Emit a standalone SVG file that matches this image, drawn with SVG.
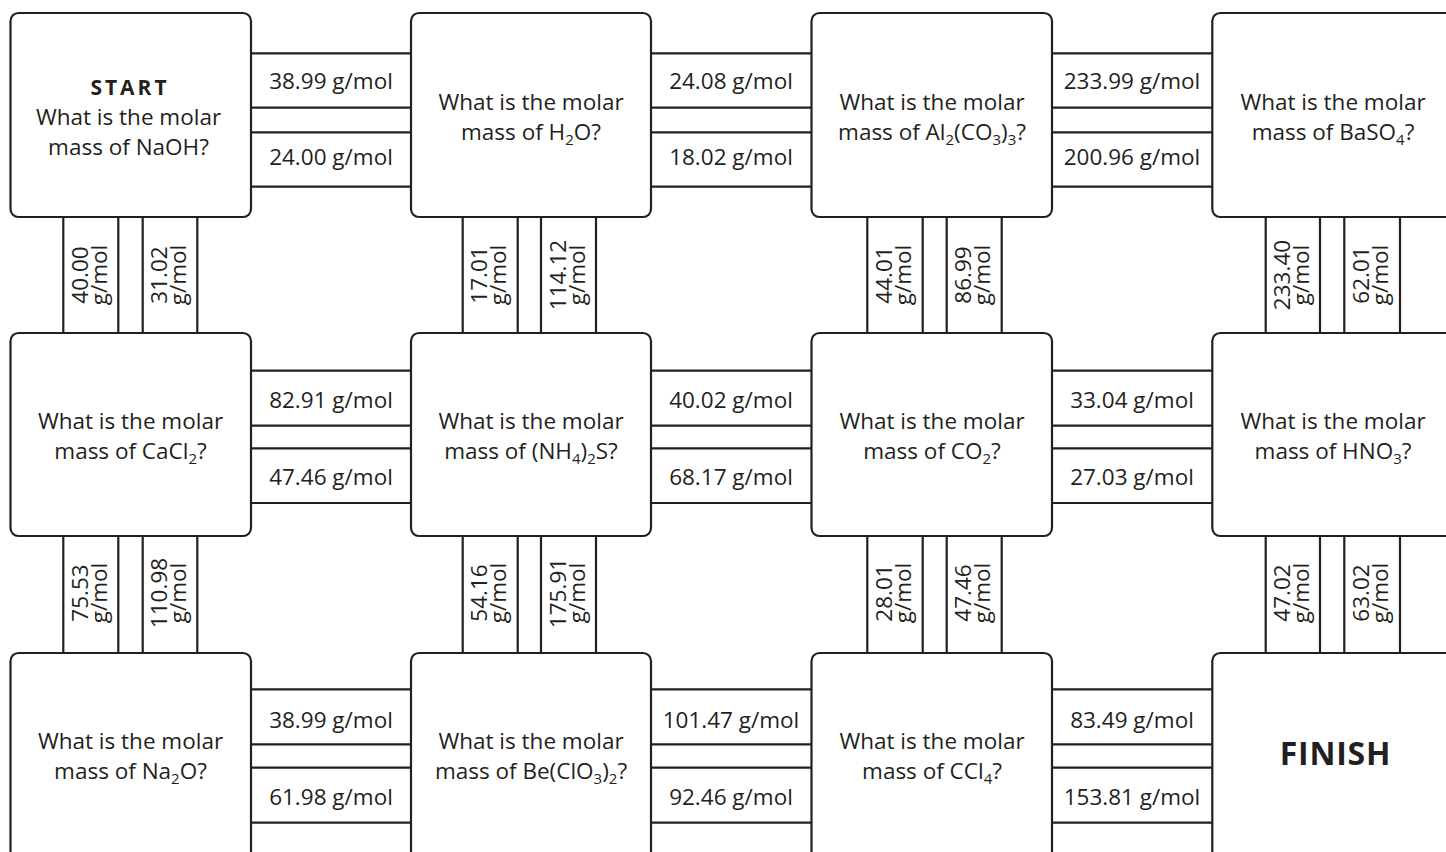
<svg xmlns="http://www.w3.org/2000/svg" width="1446" height="852" viewBox="0 0 1446 852">
<style>
.box{fill:#fff;stroke:#231f20;stroke-width:2.2}
.ln{stroke:#231f20;stroke-width:2.2;fill:none}
text{font-family:"Open Sans","Liberation Sans",sans-serif;font-size:22.5px;fill:#231f20;text-anchor:middle}
.sub{font-size:15px}
.b{font-weight:bold}
</style>
<rect width="1446" height="852" fill="#fff"/>
<g id="connectors">
<g class="ln">
<path d="M251 53.3H411M251 107.7H411M251 132.3H411M251 186.7H411"/>
<path d="M651 53.3H811M651 107.7H811M651 132.3H811M651 186.7H811"/>
<path d="M1052 53.3H1212M1052 107.7H1212M1052 132.3H1212M1052 186.7H1212"/>
<path d="M251 370.7H411M251 425.7H411M251 448.3H411M251 503H411"/>
<path d="M651 370.7H811M651 425.7H811M651 448.3H811M651 503H811"/>
<path d="M1052 370.7H1212M1052 425.7H1212M1052 448.3H1212M1052 503H1212"/>
<path d="M251 689.3H411M251 744.3H411M251 767.7H411M251 822.7H411"/>
<path d="M651 689.3H811M651 744.3H811M651 767.7H811M651 822.7H811"/>
<path d="M1052 689.3H1212M1052 744.3H1212M1052 767.7H1212M1052 822.7H1212"/>
<path d="M63.3 217V333M118.3 217V333M142.7 217V333M197.3 217V333"/>
<path d="M462.7 217V333M517.7 217V333M541 217V333M596 217V333"/>
<path d="M867.3 217V333M922.7 217V333M946.7 217V333M1001.7 217V333"/>
<path d="M1265.7 217V333M1320 217V333M1344.3 217V333M1400 217V333"/>
<path d="M63.3 536V653M118.3 536V653M142.7 536V653M197.3 536V653"/>
<path d="M462.7 536V653M517.7 536V653M541 536V653M596 536V653"/>
<path d="M867.3 536V653M922.7 536V653M946.7 536V653M1001.7 536V653"/>
<path d="M1265.7 536V653M1320 536V653M1344.3 536V653M1400 536V653"/>
</g>
<text x="331" y="89">38.99 g/mol</text>
<text x="331" y="165">24.00 g/mol</text>
<text x="731" y="89">24.08 g/mol</text>
<text x="731" y="165">18.02 g/mol</text>
<text x="1132" y="89">233.99 g/mol</text>
<text x="1132" y="165">200.96 g/mol</text>
<text x="331" y="408">82.91 g/mol</text>
<text x="331" y="485">47.46 g/mol</text>
<text x="731" y="408">40.02 g/mol</text>
<text x="731" y="485">68.17 g/mol</text>
<text x="1132" y="408">33.04 g/mol</text>
<text x="1132" y="485">27.03 g/mol</text>
<text x="331" y="728">38.99 g/mol</text>
<text x="331" y="805">61.98 g/mol</text>
<text x="731" y="728">101.47 g/mol</text>
<text x="731" y="805">92.46 g/mol</text>
<text x="1132" y="728">83.49 g/mol</text>
<text x="1132" y="805">153.81 g/mol</text>
<g transform="translate(90.8,275) rotate(-90)"><text y="-3">40.00</text><text y="16">g/mol</text></g>
<g transform="translate(170,275) rotate(-90)"><text y="-3">31.02</text><text y="16">g/mol</text></g>
<g transform="translate(490.2,275) rotate(-90)"><text y="-3">17.01</text><text y="16">g/mol</text></g>
<g transform="translate(568.5,275) rotate(-90)"><text y="-3">114.12</text><text y="16">g/mol</text></g>
<g transform="translate(895,275) rotate(-90)"><text y="-3">44.01</text><text y="16">g/mol</text></g>
<g transform="translate(974.2,275) rotate(-90)"><text y="-3">86.99</text><text y="16">g/mol</text></g>
<g transform="translate(1292.8,275) rotate(-90)"><text y="-3">233.40</text><text y="16">g/mol</text></g>
<g transform="translate(1372.2,275) rotate(-90)"><text y="-3">62.01</text><text y="16">g/mol</text></g>
<g transform="translate(90.8,593) rotate(-90)"><text y="-3">75.53</text><text y="16">g/mol</text></g>
<g transform="translate(170,593) rotate(-90)"><text y="-3">110.98</text><text y="16">g/mol</text></g>
<g transform="translate(490.2,593) rotate(-90)"><text y="-3">54.16</text><text y="16">g/mol</text></g>
<g transform="translate(568.5,593) rotate(-90)"><text y="-3">175.91</text><text y="16">g/mol</text></g>
<g transform="translate(895,593) rotate(-90)"><text y="-3">28.01</text><text y="16">g/mol</text></g>
<g transform="translate(974.2,593) rotate(-90)"><text y="-3">47.46</text><text y="16">g/mol</text></g>
<g transform="translate(1292.8,593) rotate(-90)"><text y="-3">47.02</text><text y="16">g/mol</text></g>
<g transform="translate(1372.2,593) rotate(-90)"><text y="-3">63.02</text><text y="16">g/mol</text></g>
</g>
<g id="n1"><rect class="box" x="10.5" y="13" width="240.5" height="204" rx="8"/>
<text class="b" x="130" y="95" style="font-size:21px;letter-spacing:3px">START</text>
<text x="128.5" y="125">What is the molar</text>
<text x="128.5" y="155">mass of NaOH?</text></g>
<g id="n2"><rect class="box" x="411" y="13" width="240" height="204" rx="8"/>
<text x="531" y="110">What is the molar</text>
<text x="531" y="140">mass of H<tspan class="sub" dy="5">2</tspan><tspan dy="-5">O?</tspan></text></g>
<g id="n3"><rect class="box" x="811.5" y="13" width="240.5" height="204" rx="8"/>
<text x="932" y="110">What is the molar</text>
<text x="932" y="140">mass of Al<tspan class="sub" dy="5">2</tspan><tspan dy="-5">(CO</tspan><tspan class="sub" dy="5">3</tspan><tspan dy="-5">)</tspan><tspan class="sub" dy="5">3</tspan><tspan dy="-5">?</tspan></text></g>
<g id="n4"><rect class="box" x="1212.3" y="13" width="242" height="204" rx="8"/>
<text x="1333" y="110">What is the molar</text>
<text x="1333" y="140">mass of BaSO<tspan class="sub" dy="5">4</tspan><tspan dy="-5">?</tspan></text></g>
<g id="n5"><rect class="box" x="10.5" y="333" width="240.5" height="203" rx="8"/>
<text x="130.5" y="429">What is the molar</text>
<text x="130.5" y="459">mass of CaCl<tspan class="sub" dy="5">2</tspan><tspan dy="-5">?</tspan></text></g>
<g id="n6"><rect class="box" x="411" y="333" width="240" height="203" rx="8"/>
<text x="531" y="429">What is the molar</text>
<text x="531" y="459">mass of (NH<tspan class="sub" dy="5">4</tspan><tspan dy="-5">)</tspan><tspan class="sub" dy="5">2</tspan><tspan dy="-5">S?</tspan></text></g>
<g id="n7"><rect class="box" x="811.5" y="333" width="240.5" height="203" rx="8"/>
<text x="932" y="429">What is the molar</text>
<text x="932" y="459">mass of CO<tspan class="sub" dy="5">2</tspan><tspan dy="-5">?</tspan></text></g>
<g id="n8"><rect class="box" x="1212.3" y="333" width="242" height="203" rx="8"/>
<text x="1333" y="429">What is the molar</text>
<text x="1333" y="459">mass of HNO<tspan class="sub" dy="5">3</tspan><tspan dy="-5">?</tspan></text></g>
<g id="n9"><rect class="box" x="10.5" y="653" width="240.5" height="210" rx="8"/>
<text x="130.5" y="749">What is the molar</text>
<text x="130.5" y="779">mass of Na<tspan class="sub" dy="5">2</tspan><tspan dy="-5">O?</tspan></text></g>
<g id="n10"><rect class="box" x="411" y="653" width="240" height="210" rx="8"/>
<text x="531" y="749">What is the molar</text>
<text x="531" y="779">mass of Be(ClO<tspan class="sub" dy="5">3</tspan><tspan dy="-5">)</tspan><tspan class="sub" dy="5">2</tspan><tspan dy="-5">?</tspan></text></g>
<g id="n11"><rect class="box" x="811.5" y="653" width="240.5" height="210" rx="8"/>
<text x="932" y="749">What is the molar</text>
<text x="932" y="779">mass of CCl<tspan class="sub" dy="5">4</tspan><tspan dy="-5">?</tspan></text></g>
<g id="n12"><rect class="box" x="1212.3" y="653" width="242" height="210" rx="8"/>
<text class="b" x="1335.5" y="765" style="font-size:32px;letter-spacing:0.8px">FINISH</text></g>
</svg>
